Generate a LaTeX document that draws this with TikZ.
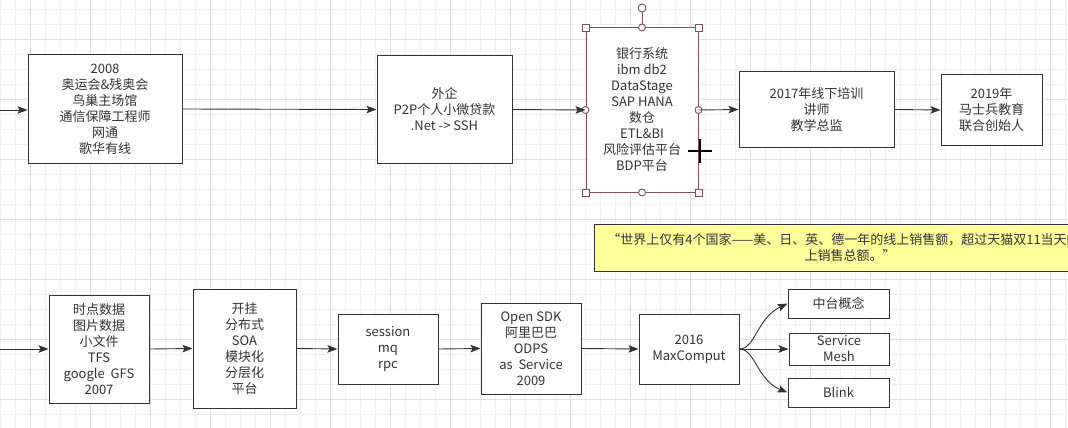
\documentclass[tikz,border=0pt]{standalone}
\usepackage{fontspec}
\setmainfont{Noto Sans CJK SC}
\usetikzlibrary{arrows.meta,calc}
\definecolor{ink}{HTML}{333333}
\definecolor{gminor}{HTML}{F0F0F0}
\definecolor{gmajor}{HTML}{E0E0E0}
\definecolor{notefill}{HTML}{FFFF99}
\definecolor{selc}{HTML}{80505A}
\begin{document}
\begin{tikzpicture}[x=1pt,y=-1pt,
  box/.style={draw=ink, fill=white, line width=1pt, text=ink, align=center,
    font=\fontsize{13}{16}\selectfont, inner sep=0pt},
  arr/.style={draw=ink, line width=0.9pt, -{Stealth[length=10pt,width=7.5pt,inset=2pt]}},
  gmin/.style={draw=gminor, line width=0.8pt},
  gmaj/.style={draw=gmajor, line width=0.8pt},
  handle/.style={draw=selc, fill=white, line width=0.9pt}]
\useasboundingbox (0,0) rectangle (1068,428);
% grid
\foreach \x in {0,15,...,1065} \draw[gmin] (\x,0) -- (\x,428);
\foreach \y in {9,24,...,424} \draw[gmin] (0,\y) -- (1068,\y);
\foreach \x in {30,90,...,1050} \draw[gmaj] (\x,0) -- (\x,428);
\foreach \y in {39,99,...,399} \draw[gmaj] (0,\y) -- (1068,\y);

% top row
\node[box, minimum width=154pt, minimum height=108pt] (n2008) at (105,109)
  {2008\\奥运会\&残奥会\\鸟巢主场馆\\通信保障工程师\\网通\\歌华有线};
\node[box, minimum width=135pt, minimum height=107pt] (nwq) at (444.5,109.5)
  {外企\\P2P个人小微贷款\\.Net -> SSH};
\node[box, draw=selc, minimum width=112pt, minimum height=164pt] (nbank) at (642,110)
  {银行系统\\ibm db2\\DataStage\\SAP HANA\\数仓\\ETL\&BI\\风险评估平台\\BDP平台};
\node[box, minimum width=155pt, minimum height=75pt] (n2017) at (816.5,109.5)
  {2017年线下培训\\讲师\\教学总监};
\node[box, minimum width=101pt, minimum height=70pt] (n2019) at (991.5,110)
  {2019年\\马士兵教育\\联合创始人};

% selection handles
\draw[selc, line width=0.9pt] (nbank.north) -- (642,12);
\draw[handle] (642,8) circle (4pt);
\foreach \c in {north west, north east, south west, south east}
  \draw[handle] ($(nbank.\c)+(-3.5,-3.5)$) rectangle ++(7,7);
\foreach \c in {north, south, west, east}
  \draw[handle] (nbank.\c) circle (3.5pt);

% note
\node[box, fill=notefill, minimum width=512pt, minimum height=47pt] (note) at (850,247.5)
  {“世界上仅有4个国家——美、日、英、德一年的线上销售额，超过天猫双11当天的线\\上销售总额。”};

% bottom row
\node[box, minimum width=100pt, minimum height=108pt] (nts) at (99,349)
  {时点数据\\图片数据\\小文件\\TFS\\google\ \ GFS\\2007};
\node[box, minimum width=103pt, minimum height=119pt] (nkg) at (244.5,348.5)
  {开挂\\分布式\\SOA\\模块化\\分层化\\平台};
\node[box, minimum width=100pt, minimum height=70pt] (nses) at (388,349)
  {session\\mq\\rpc};
\node[box, minimum width=100pt, minimum height=91pt] (nsdk) at (531,348.5)
  {Open SDK\\阿里巴巴\\ODPS\\as\ \ Service\\2009};
\node[box, minimum width=100pt, minimum height=70pt] (n2016) at (689,349)
  {2016\\MaxComput};
\node[box, minimum width=101pt, minimum height=29pt] (nzt) at (838.5,303.5) {中台概念};
\node[box, minimum width=100pt, minimum height=32pt] (nsm) at (839,349) {Service\\Mesh};
\node[box, minimum width=101pt, minimum height=29pt] (nbl) at (838.5,392.5) {Blink};

% connectors
\coordinate (in1) at (0,110);
\coordinate (in2) at (0,349);
\draw[arr] (in1) -- (in1 -| n2008.west);
\draw[arr] (n2008.east) -- (nwq.west);
\draw[arr] (nwq.east) -- (nbank.west);
\draw[arr] (nbank.east) -- (n2017.west);
\draw[arr] (n2017.east) -- (n2019.west);
\draw[arr] (in2) -- (nts.west);
\draw[arr] (nts.east) -- (nkg.west);
\draw[arr] (nkg.east) -- (nses.west);
\draw[arr] (nses.east) -- (nsdk.west);
\draw[arr] (nsdk.east) -- (n2016.west);
\draw[arr] (n2016.east) -- (nsm.west);
\draw[arr] (n2016.east) .. controls (755,349) and (757,318) .. (nzt.west);
\draw[arr] (n2016.east) .. controls (755,349) and (757,380) .. (nbl.west);

% cursor
\draw[black, line width=2.5pt] (688,151) -- (712,151);
\draw[black, line width=2.5pt] (700,139) -- (700,163);
\end{tikzpicture}
\end{document}
